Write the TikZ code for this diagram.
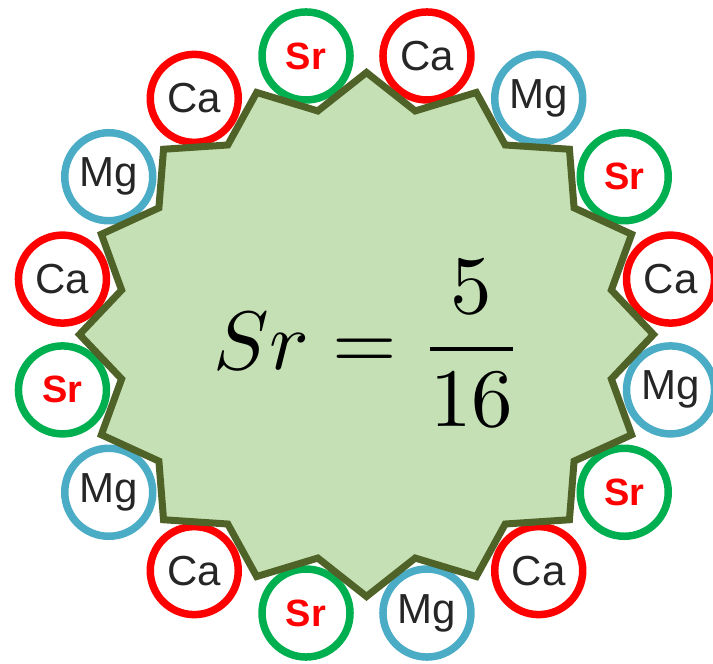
\documentclass[tikz,border=0pt]{standalone}
\usepackage{fontspec}
\setsansfont{Liberation Sans}
\usepackage{tikz}
\definecolor{srgreen}{HTML}{00B050}
\definecolor{cared}{HTML}{FF0000}
\definecolor{mgblue}{HTML}{4BACC6}
\definecolor{gearfill}{HTML}{C5E0B4}
\definecolor{gearline}{HTML}{4F6228}

\tikzset{
  atom/.style={circle, draw=#1, line width=7.5pt, fill=white, minimum size=88pt, inner sep=0pt,
    font=\sffamily\fontsize{42}{50}\selectfont, text=black!85},
  sratom/.style={atom=srgreen, font=\sffamily\bfseries\fontsize{38}{46}\selectfont, text=cared},
  caatom/.style={atom=cared},
  mgatom/.style={atom=mgblue},
  gear/.style={draw=gearline, fill=gearfill, line width=7pt},
}

\begin{document}
\begin{tikzpicture}[x=1pt, y=1pt]
  \useasboundingbox (-366.5,-329.5) rectangle (346.5,334.5);

  % atoms round the ring, clockwise from the top
  \foreach \lbl/\kind [count=\i] in {Sr/sratom, Ca/caatom, Mg/mgatom, Sr/sratom,
      Ca/caatom, Mg/mgatom, Sr/sratom, Ca/caatom, Mg/mgatom, Sr/sratom,
      Ca/caatom, Mg/mgatom, Sr/sratom, Ca/caatom, Mg/mgatom, Ca/caatom}
    \node[\kind] (a\i) at ({310*cos(123.75-22.5*\i)}, {284*sin(123.75-22.5*\i)}) {\lbl};

  % the star sits over the rims
  \draw[gear] (287,0) \foreach \k in {1,...,31} {
      -- ({287*(1-0.13*mod(\k,2))*cos(11.25*\k)}, {262*(1-0.13*mod(\k,2))*sin(11.25*\k)}) } -- cycle;

  \node[scale=8.3] (ratio) at (2,-9) {$\displaystyle Sr=\frac{5}{16}$};
\end{tikzpicture}
\end{document}
